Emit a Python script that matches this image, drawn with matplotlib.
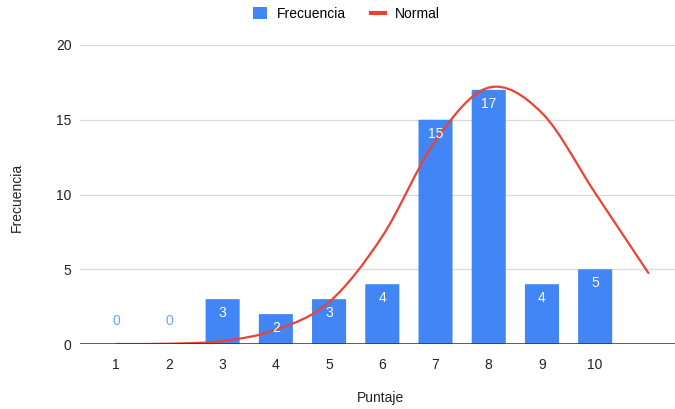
import numpy as np
import matplotlib
matplotlib.use("Agg")
import matplotlib.pyplot as plt
from matplotlib.path import Path
from matplotlib.patches import PathPatch, FancyBboxPatch
from matplotlib.lines import Line2D
from matplotlib.patches import Patch

plt.rcParams['font.family'] = ['Liberation Sans', 'DejaVu Sans']

# data
puntaje = [1, 2, 3, 4, 5, 6, 7, 8, 9, 10, 11]
tickLabels = ['1', '2', '3', '4', '5', '6', '7', '8', '9', '10', '']
frecuencia = [0, 0, 3, 2, 3, 4, 15, 17, 4, 5, None]
normal = [0.0, 0.02, 0.2, 0.95, 2.8, 7.2, 13.6, 17.15, 15.45, 10.1, 4.75]

blue = '#4285F4'
red = '#EA4335'

fig = plt.figure(figsize=(6.75, 4.09), dpi=100)
ax = fig.add_axes([80/675, 1 - 344/409, (675-80)/675, 299/409])

ax.set_xlim(0.32, 11.5)
ax.set_ylim(0, 20)

# bars with small rounded corners
barWidth = 0.64
for x, v in zip(puntaje, frecuencia):
    if v is None or v == 0:
        continue
    ax.add_patch(FancyBboxPatch((x - barWidth/2, 0), barWidth, v,
                                boxstyle="round,pad=0,rounding_size=0.04",
                                mutation_aspect=0.3,
                                fc=blue, ec='none', zorder=2))

# value labels
for x, v in zip(puntaje, frecuencia):
    if v is None:
        continue
    if v == 0:
        ax.annotate(str(v), (x, 0), xytext=(0, 23), textcoords='offset pixels',
                    ha='center', va='center', color='#6fa0f6', fontsize=10, zorder=4)
    else:
        ax.annotate(str(v), (x, v), xytext=(0, -14), textcoords='offset pixels',
                    ha='center', va='center', color='white', fontsize=10, zorder=4)

# smooth curve through the normal values (cubic Bezier segments)
pts = np.column_stack([puntaje, normal]).astype(float)
verts = [pts[0]]
codes = [Path.MOVETO]
n = len(pts)
k = 6.0
for i in range(n - 1):
    p0 = pts[i - 1] if i > 0 else pts[i]
    p1 = pts[i]
    p2 = pts[i + 1]
    p3 = pts[i + 2] if i + 2 < n else pts[i + 1]
    c1 = p1 + (p2 - p0) / k
    c2 = p2 - (p3 - p1) / k
    verts += [c1, c2, p2]
    codes += [Path.CURVE4] * 3
ax.add_patch(PathPatch(Path(verts, codes), fc='none', ec=red, lw=1.6,
                       capstyle='round', zorder=3))

# axes styling
ax.set_yticks([0, 5, 10, 15, 20])
ax.set_xticks(puntaje)
ax.set_xticklabels(tickLabels)
ax.grid(axis='y', color='#d9d9d9', lw=0.9, zorder=0)
ax.axhline(0, color='#333333', lw=1.1, zorder=3)
for s in ax.spines.values():
    s.set_visible(False)
ax.tick_params(length=0, labelsize=10, colors='#222222')
ax.tick_params(axis='y', pad=6)
ax.tick_params(axis='x', pad=10)

ax.set_xlabel('Puntaje', fontsize=10, color='#222222')
ax.set_ylabel('Frecuencia', fontsize=10, color='#222222')
ax.xaxis.set_label_coords((381-80)/595, -(391-344)/299)
ax.yaxis.set_label_coords(-(80-24)/595, (344-197)/299)

handles = [Patch(fc=blue, ec='none', label='Frecuencia'),
           Line2D([], [], color=red, lw=3, label='Normal')]
fig.legend(handles=handles, loc='center', bbox_to_anchor=((251+442)/2/675, 1 - 14/409),
           ncol=2, frameon=False, fontsize=10, handlelength=1.0, handleheight=1.0,
           columnspacing=1.8, handletextpad=0.7)

fig.savefig('out.png', dpi=100)
